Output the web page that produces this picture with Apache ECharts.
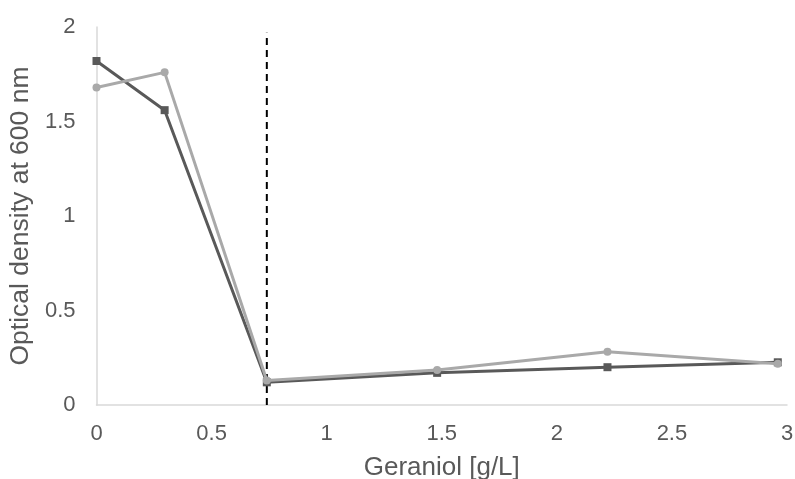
<!DOCTYPE html>
<html><head><meta charset="utf-8">
<script src="https://cdn.jsdelivr.net/npm/echarts@6/dist/echarts.min.js"></script>
<style>html,body{margin:0;padding:0;background:#fff}#c{width:795px;height:479px}</style>
</head><body><div id="c"></div>
<script>
const geraniol = [0, 0.296, 0.74, 1.48, 2.22, 2.96];
const seriesDark = [1.82, 1.56, 0.12, 0.17, 0.20, 0.226];
const seriesLight = [1.68, 1.76, 0.13, 0.185, 0.282, 0.218];
const thresholdX = 0.74;
const thresholdTop = 1.97;
const xTicks = ['0', '0.5', '1', '1.5', '2', '2.5', '3'];
const yTicks = ['0', '0.5', '1', '1.5', '2'];

const chart = echarts.init(document.getElementById('c'), null, {renderer: 'canvas'});
const font = 'Liberation Sans, Arial, sans-serif';
chart.setOption({
  animation: false,
  grid: {left: 96.5, right: 8, top: 27, bottom: 74, containLabel: false, outerBoundsMode: 'none'},
  xAxis: {
    type: 'value', min: 0, max: 3, interval: 0.5,
    name: 'Geraniol [g/L]', nameLocation: 'middle', nameGap: 50,
    nameTextStyle: {fontFamily: font, fontSize: 26, color: '#595959'},
    axisLine: {show: true, lineStyle: {color: '#d9d9d9', width: 1.5}},
    axisTick: {show: false}, splitLine: {show: false},
    axisLabel: {fontFamily: font, fontSize: 22, color: '#595959', margin: 18,
      formatter: v => xTicks[Math.round(v / 0.5)]}
  },
  yAxis: {
    type: 'value', min: 0, max: 2, interval: 0.5,
    name: 'Optical density at 600 nm', nameLocation: 'middle', nameGap: 54,
    nameTextStyle: {fontFamily: font, fontSize: 26.5, color: '#595959'},
    axisLine: {show: true, lineStyle: {color: '#d9d9d9', width: 1.5}},
    axisTick: {show: false}, splitLine: {show: false},
    axisLabel: {fontFamily: font, fontSize: 22, color: '#595959', margin: 21,
      formatter: v => yTicks[Math.round(v / 0.5)]}
  },
  series: [
    {
      type: 'line', data: [[thresholdX, 0], [thresholdX, thresholdTop]],
      symbol: 'none', lineStyle: {color: '#000', width: 2, type: [7, 5]}, z: 1
    },
    {
      type: 'line', data: geraniol.map((x, i) => [x, seriesDark[i]]),
      symbol: 'rect', symbolSize: 8, showAllSymbol: true,
      lineStyle: {color: '#595959', width: 3}, itemStyle: {color: '#595959'}, z: 2
    },
    {
      type: 'line', data: geraniol.map((x, i) => [x, seriesLight[i]]),
      symbol: 'circle', symbolSize: 8, showAllSymbol: true,
      lineStyle: {color: '#a9a9a9', width: 3}, itemStyle: {color: '#a9a9a9'}, z: 3
    }
  ]
});
</script></body></html>
